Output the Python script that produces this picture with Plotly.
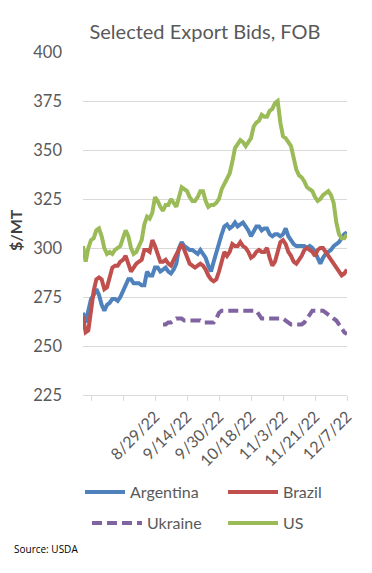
import plotly.graph_objects as go
import pandas as pd

# Categories: business days ending 12/7/22
dates = pd.bdate_range(end="2022-12-07", periods=100)
categories = [f"{d.month}/{d.day}/{d.strftime('%y')}" for d in dates]
labeled_ticks = ["8/29/22", "9/14/22", "9/30/22", "10/18/22", "11/3/22", "11/21/22", "12/7/22"]

argentina = [267, 262, 268, 274, 276, 279, 276, 271, 268, 271,
             272, 274, 274, 273, 275, 278, 281, 284, 284, 282,
             282, 282, 281, 281, 288, 286, 286, 290, 290, 288,
             289, 290, 288, 287, 289, 292, 300, 303, 301, 300,
             299, 299, 298, 297, 299, 297, 295, 291, 288, 293,
             298, 302, 307, 311, 312, 310, 311, 313, 311, 312,
             313, 311, 309, 306, 309, 311, 311, 309, 310, 310,
             307, 306, 307, 307, 306, 307, 310, 306, 304, 302,
             301, 301, 301, 301, 300, 301, 300, 298, 295, 292,
             295, 297, 298, 299, 301, 302, 303, 305, 307, 308]

brazil = [265, 257, 258, 268, 278, 284, 285, 284, 279, 280,
          285, 290, 291, 291, 293, 294, 296, 292, 288, 290,
          292, 293, 294, 299, 299, 298, 304, 301, 297, 293,
          293, 294, 292, 291, 294, 297, 299, 302, 299, 295,
          292, 291, 290, 291, 292, 291, 289, 286, 284, 283,
          284, 288, 294, 298, 296, 298, 302, 301, 301, 303,
          301, 300, 298, 295, 296, 298, 299, 298, 298, 300,
          295, 291, 293, 299, 303, 304, 302, 298, 296, 293,
          292, 294, 296, 299, 300, 299, 298, 296, 299, 300,
          300, 298, 296, 294, 292, 290, 288, 286, 287, 289]

ukraine = [None] * 30 + [
          261, 261, 262, 262, 263, 264, 264, 264, 263, 263,
          263, 263, 263, 263, 263, 262, 262, 262, 262, 262,
          264, 267, 268, 268, 268, 268, 268, 268, 268, 268,
          268, 268, 268, 268, 268, 268, 266, 264, 264, 264,
          264, 264, 264, 264, 264, 264, 263, 262, 261, 261,
          261, 261, 261, 262, 264, 266, 268, 268, 268, 268,
          268, 267, 266, 265, 264, 263, 261, 259, 257, 256]

us = [301, 293, 300, 304, 305, 309, 310, 306, 300, 297,
      298, 297, 299, 300, 301, 305, 309, 306, 300, 297,
      298, 301, 304, 312, 316, 315, 318, 326, 324, 321,
      319, 322, 322, 325, 323, 321, 326, 331, 330, 329,
      326, 324, 324, 326, 329, 329, 324, 321, 322, 322,
      323, 325, 330, 333, 336, 338, 344, 351, 353, 355,
      354, 352, 354, 356, 362, 364, 365, 368, 367, 367,
      370, 371, 374, 375, 364, 357, 356, 354, 352, 346,
      340, 337, 336, 334, 331, 330, 329, 326, 324, 325,
      327, 328, 329, 327, 323, 313, 307, 305, 305, 307]

y_ticks = [225, 250, 275, 300, 325, 350, 375, 400]

FONT = "Lato"
GRAY = "#595959"

series = [
    ("Argentina", argentina, "#4F81BD", "solid", "legend"),
    ("Brazil", brazil, "#C0504D", "solid", "legend2"),
    ("Ukraine", ukraine, "#8064A2", "10px,5px", "legend3"),
    ("US", us, "#9BBB59", "solid", "legend4"),
]

fig = go.Figure()
for name, vals, color, dash, lg in series:
    fig.add_trace(go.Scatter(
        x=categories, y=vals, name=name, mode="lines",
        line=dict(color=color, width=4, dash=dash),
        legend=lg, showlegend=True, connectgaps=False, cliponaxis=False,
    ))

tickvals = categories[3::12]
ticktext = [c if c in labeled_ticks else "" for c in tickvals]

W, H = 372, 573
L, R, T, B = 83, 25, 52, 178
pw, ph = W - L - R, H - T - B

def px_x(px):
    return (px - L) / pw

def px_y(py):
    return (H - B - py) / ph

def legend_cfg(xpx, ypx, iw):
    return dict(orientation="h", bgcolor="rgba(0,0,0,0)", itemwidth=iw,
                font=dict(family=FONT, size=16, color=GRAY),
                x=px_x(xpx), y=px_y(ypx),
                xanchor="left", yanchor="middle", traceorder="normal")

fig.update_layout(
    width=W, height=H, showlegend=True,
    margin=dict(l=L, r=R, t=T, b=B, autoexpand=False),
    paper_bgcolor="white", plot_bgcolor="white",
    font=dict(family=FONT, color=GRAY),
    title=dict(text="Selected Export Bids, FOB", x=205 / W, xanchor="center",
               xref="container", y=1 - 32 / H, yanchor="middle", yref="container",
               font=dict(family=FONT, size=20, color=GRAY)),
    xaxis=dict(type="category", range=[0, 99], tickmode="array",
               tickvals=tickvals, ticktext=ticktext, tickangle=-45,
               showgrid=False, showline=True, linecolor="#d9d9d9", linewidth=1,
               ticks="outside", ticklen=5, tickcolor="#d9d9d9",
               tickfont=dict(family=FONT, size=16, color=GRAY)),
    yaxis=dict(range=[225, 400], tickvals=y_ticks, showgrid=True,
               gridcolor="#d9d9d9", gridwidth=1, zeroline=False, showline=False,
               ticklabelstandoff=20,
               tickfont=dict(family=FONT, size=16.5, color=GRAY)),
    legend=legend_cfg(80, 492, 40),
    legend2=legend_cfg(223, 492, 50),
    legend3=legend_cfg(87, 523, 50),
    legend4=legend_cfg(223, 523, 50),
    annotations=[
        dict(text="<b>$/MT</b>", textangle=-90, x=px_x(15), y=px_y(230),
             xref="paper", yref="paper", showarrow=False, xanchor="center",
             yanchor="middle", font=dict(family=FONT, size=16, color="#404040")),
        dict(text="Source: USDA", x=px_x(12), y=px_y(549), xref="paper",
             yref="paper", showarrow=False, xanchor="left", yanchor="middle",
             font=dict(family="Open Sans", size=10, color="black")),
    ],
)

fig.write_html("out.html", config={"displayModeBar": False},
               post_script="document.body.style.margin='0px';")
